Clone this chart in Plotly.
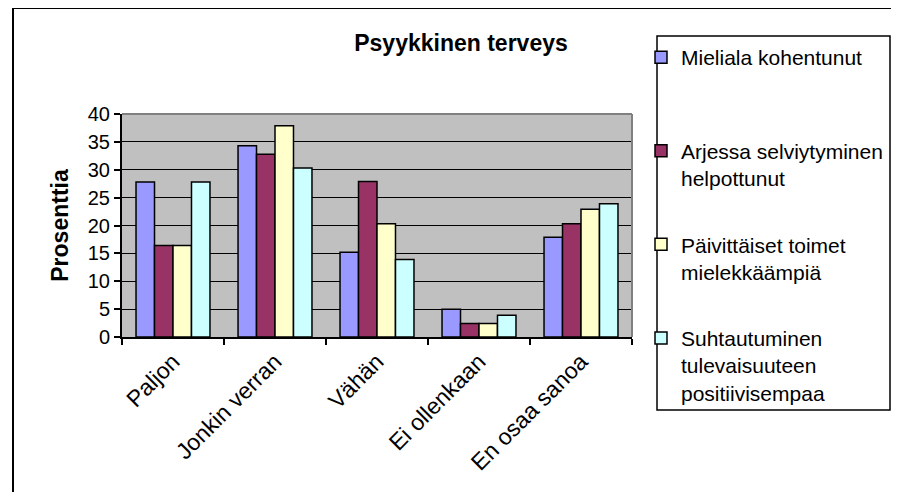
import plotly.graph_objects as go

categories = ["Paljon", "Jonkin verran", "Vähän", "Ei ollenkaan", "En osaa sanoa"]
series_names = [
    "Mieliala kohentunut<br>&nbsp;",
    "Arjessa selviytyminen<br>helpottunut",
    "Päivittäiset toimet<br>mielekkäämpiä",
    "Suhtautuminen<br>tulevaisuuteen<br>positiivisempaa",
]
mieliala = [27.8, 34.3, 15.2, 5.0, 17.9]
arjessa = [16.4, 32.8, 27.9, 2.4, 20.3]
paivittaiset = [16.4, 37.9, 20.3, 2.4, 22.9]
suhtautuminen = [27.8, 30.3, 13.9, 3.9, 23.9]
colors = ["#9999FF", "#993366", "#FFFFCC", "#CCFFFF"]
y_ticks = [0, 5, 10, 15, 20, 25, 30, 35, 40]

# page has an 8px body margin on every side; work in screen pixels and shift
OFF = 8
W, H = 899 - 2 * OFF, 500 - 2 * OFF
L, R, T, B = 122 - OFF, 632 - OFF, 114 - OFF, 337 - OFF


def px_x(x):
    return (x - OFF - L) / (R - L)


def px_y(y):
    return (B - (y - OFF)) / (B - T)


fig = go.Figure()
for i, (name, vals) in enumerate(zip(series_names, [mieliala, arjessa, paivittaiset, suhtautuminen])):
    fig.add_trace(go.Bar(
        x=categories, y=vals, name=name,
        marker=dict(color=colors[i], line=dict(color="black", width=1.5)),
        legendgroup=f"g{i}",
    ))

font = "Liberation Sans, Arial, sans-serif"
fig.update_layout(
    width=W, height=H,
    margin=dict(l=L, r=W - R, t=T, b=H - B, pad=0, autoexpand=False),
    paper_bgcolor="white",
    plot_bgcolor="#C0C0C0",
    barmode="group",
    bargap=0.275,
    bargroupgap=0,
    font=dict(family=font, size=20, color="black"),
    title=dict(text="<b>Psyykkinen terveys</b>", font=dict(size=23, family=font),
               x=px_x(461), xref="paper", xanchor="center",
               y=1 - (43 - OFF) / H, yref="container", yanchor="middle"),
    showlegend=True,
    legend=dict(
        x=px_x(641), y=px_y(37), xanchor="left", yanchor="top",
        font=dict(size=21, family=font),
        bgcolor="rgba(0,0,0,0)", borderwidth=0,
        valign="top", tracegroupgap=36, traceorder="grouped",
        maxheight=470,
    ),
    xaxis=dict(
        showline=True, linecolor="black", linewidth=2,
        ticks="outside", ticklen=6, tickcolor="black", tickwidth=1.5,
        tickson="boundaries", tickangle=-45, tickfont=dict(size=23),
        showgrid=False, automargin=False,
    ),
    yaxis=dict(
        range=[0, 40], tickvals=y_ticks, ticktext=[str(v) for v in y_ticks],
        showline=True, linecolor="black", linewidth=2,
        ticks="outside", ticklen=6, tickcolor="black", tickwidth=1.5,
        showgrid=True, gridcolor="black", gridwidth=1.2,
        zeroline=False, tickfont=dict(size=20), automargin=False,
        title=dict(text="<b>Prosenttia</b>", font=dict(size=23), standoff=13),
    ),
    shapes=[
        dict(type="line", xref="paper", yref="paper", x0=0, x1=1, y0=1, y1=1,
             line=dict(color="#808080", width=2), layer="above"),
        dict(type="line", xref="paper", yref="paper", x0=1, x1=1, y0=0, y1=1,
             line=dict(color="#808080", width=2), layer="above"),
        dict(type="rect", xref="paper", yref="paper",
             x0=px_x(657), x1=px_x(890), y0=px_y(410), y1=px_y(36),
             line=dict(color="black", width=1.5), layer="below"),
        dict(type="rect", xref="paper", yref="paper",
             x0=px_x(13), x1=px_x(920), y0=px_y(530), y1=px_y(8),
             line=dict(color="black", width=2), layer="below"),
    ],
)

fig.write_html("out.html")
